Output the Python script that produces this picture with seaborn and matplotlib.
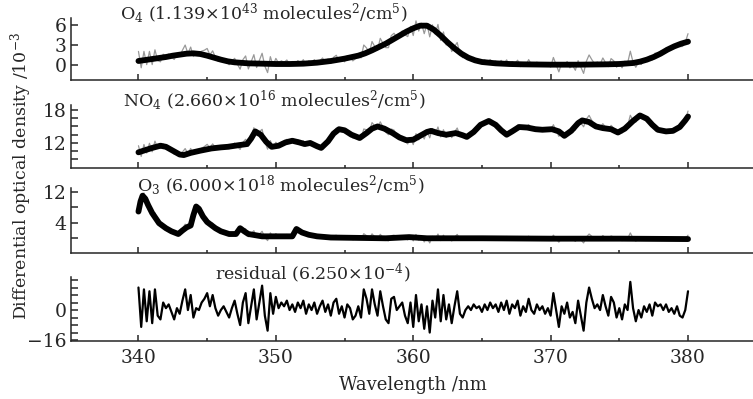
'''
DOAS fit panels: O4, NO4, O3 and the fit residual
'''

import numpy as np
import matplotlib
matplotlib.use('Agg')
import matplotlib.pyplot as plt
import seaborn as sns

# Fitted O4 cross section (x 10^-3)
o4_wl = [340.0, 340.5, 341.0, 341.5, 342.0, 342.5, 343.0, 343.5, 344.0, 344.5, 345.0, 345.5,
         346.0, 346.5, 347.0, 348.0, 349.0, 350.0, 351.0, 352.0, 353.0, 354.0, 355.0, 356.0,
         356.5, 357.0, 357.5, 358.0, 358.5, 359.0, 359.5, 360.0, 360.5, 361.0, 361.5, 362.0,
         362.5, 363.0, 363.5, 364.0, 364.5, 365.0, 366.0, 367.0, 368.0, 370.0, 372.0, 374.0,
         375.0, 376.0, 376.5, 377.0, 377.5, 378.0, 378.5, 379.0, 379.5, 380.0]
o4_fit = [0.6, 0.75, 0.9, 1.05, 1.2, 1.4, 1.55, 1.7, 1.75, 1.65, 1.4, 1.1,
          0.8, 0.55, 0.4, 0.25, 0.2, 0.15, 0.15, 0.2, 0.35, 0.6, 0.95, 1.4,
          1.75, 2.2, 2.7, 3.2, 3.8, 4.4, 5.0, 5.5, 5.9, 5.9, 5.3, 4.4,
          3.4, 2.5, 1.7, 1.1, 0.7, 0.45, 0.25, 0.15, 0.1, 0.05, 0.05, 0.1,
          0.15, 0.3, 0.5, 0.8, 1.2, 1.7, 2.3, 2.8, 3.2, 3.5]

# Fitted NO4 cross section
no4_wl = [340.0, 340.5, 341.0, 341.6, 342.0, 342.5, 343.0, 343.3, 343.8, 344.5, 345.3, 346.0,
          346.5, 347.3, 347.9, 348.2, 348.5, 348.9, 349.3, 349.7, 350.2, 350.7, 351.2, 351.7,
          352.1, 352.5, 353.0, 353.3, 353.8, 354.2, 354.6, 355.0, 355.5, 356.1, 356.6, 357.0,
          357.4, 357.9, 358.5, 359.0, 359.5, 360.0, 360.5, 361.0, 361.3, 361.8, 362.4, 363.1,
          363.6, 363.9, 364.4, 364.9, 365.5, 366.0, 366.4, 366.8, 367.2, 367.7, 368.3, 368.9,
          369.4, 370.1, 370.6, 371.0, 371.5, 372.0, 372.3, 372.8, 373.3, 373.8, 374.4, 374.9,
          375.4, 376.0, 376.5, 377.0, 377.4, 377.8, 378.4, 378.9, 379.4, 379.8, 380.0]
no4_fit = [10.3, 10.7, 11.1, 11.5, 11.3, 10.6, 9.9, 9.8, 10.2, 10.6, 11.0, 11.2,
           11.3, 11.6, 11.8, 12.8, 14.1, 13.5, 12.2, 11.3, 11.5, 12.1, 12.4, 12.1,
           11.8, 12.0, 11.4, 11.1, 12.3, 13.7, 14.5, 14.3, 13.5, 12.9, 13.8, 14.6,
           15.0, 14.6, 13.8, 13.0, 12.5, 12.6, 13.3, 14.0, 14.2, 13.8, 13.5, 13.8,
           13.4, 13.1, 14.0, 15.3, 16.0, 15.3, 14.3, 13.5, 14.1, 14.9, 14.8, 14.5,
           14.4, 14.5, 14.1, 13.3, 14.2, 15.6, 16.1, 15.8, 15.0, 14.7, 14.5, 13.9,
           14.6, 16.0, 17.0, 16.4, 15.3, 14.4, 14.1, 14.2, 14.9, 16.1, 16.8]

# Fitted O3 cross section
o3_wl = [340.0, 340.15, 340.3, 340.5, 340.7, 341.0, 341.5, 342.0, 342.4, 342.9, 343.2, 343.5,
         343.8, 344.0, 344.2, 344.4, 344.7, 345.0, 345.6, 346.0, 346.6, 347.1, 347.4, 347.7,
         348.0, 349.0, 350.0, 351.2, 351.5, 351.9, 352.4, 353.0, 354.0, 356.0, 358.0, 359.7,
         361.0, 365.0, 370.0, 375.0, 380.0]
o3_fit = [6.9, 9.5, 11.0, 10.2, 8.6, 6.5, 3.9, 2.6, 1.8, 1.1, 2.0, 2.8,
          3.3, 6.0, 8.2, 7.6, 5.6, 4.2, 2.6, 1.8, 1.1, 1.1, 2.6, 1.8,
          1.1, 0.5, 0.5, 0.5, 2.4, 1.5, 0.9, 0.5, 0.2, 0.1, 0.0, 0.3,
          0.0, 0.0, -0.1, -0.1, -0.2]

# Residual, 340-380 nm every 0.2 nm
residual = [12, -9, 11, -6, 10, -7, 11, -3, -5, 4, 1, 3, -1, -5, 1, -2, 5, 11, 0, 8,
            -4, 1, 0, 4, 6, 9, 2, 8, 1, -3, 0, 2, -1, -4, 1, 5, -2, -8, 4, 9,
            -7, 2, 11, -5, 4, 13, -3, -11, 9, -2, 7, 1, 4, 2, 5, 0, 3, -1, 4, 1,
            5, -2, 3, 0, 4, -2, 2, 5, -1, 3, -3, 4, 6, -2, 2, -4, 3, 1, -5, -3,
            2, -4, 11, 6, -2, 11, 3, -3, 10, 2, -5, -7, 6, 7, 0, 2, 4, -3, -7, 4,
            -9, 8, -6, 3, -10, 2, -12, 5, -4, 11, -6, 8, -5, 3, -7, 2, 10, -2, -4, 0,
            2, 0, 3, 1, 2, -1, 3, 0, 4, 1, 3, -1, 4, 0, 5, -2, 3, 1, 5, -3,
            2, -1, 6, 0, -2, 3, 0, 2, -2, 1, -3, 9, 0, -9, 2, -2, 4, -4, -1, -7,
            5, -3, -11, 4, 12, 6, 1, 3, 0, 8, 2, -3, 7, 4, -4, 1, -5, 3, 0, 15,
            1, -6, 0, -4, 2, -1, 3, -3, 4, 2, 3, 0, 3, -1, 1, -2, 2, -3, -4, 0,
            10]
res_wl = np.linspace(340, 380, len(residual))
res = np.array(residual, dtype=float)

titles = [r'O$_4$ (1.139$\times$10$^{43}$ molecules$^2$/cm$^5$)',
          r'NO$_4$ (2.660$\times$10$^{16}$ molecules$^2$/cm$^5$)',
          r'O$_3$ (6.000$\times$10$^{18}$ molecules$^2$/cm$^5$)',
          r'residual (6.250$\times$10$^{-4}$)']

sns.set_style('ticks')
plt.rcParams['font.family'] = ['DejaVu Serif']
plt.rcParams['mathtext.fontset'] = 'dejavuserif'
plt.rcParams['font.size'] = 12.5

fig = plt.figure(figsize=(7.53, 3.99), dpi=100)

# axes boxes in pixels (top, bottom) of the 399 px high picture
boxes = [(18, 80), (105, 168), (188, 253), (277, 341)]
ylims = [(-2.25, 7.05), (7.45, 18.9), (-3.8, 12.98), (-16.5, 17.6)]
left = 71 / 753
axes = []
for (t, b), yl in zip(boxes, ylims):
    ax = fig.add_axes([left, 1 - b / 399, 1 - left, (b - t) / 399])
    ax.set_xlim(335.09, 384.73)
    ax.set_ylim(*yl)
    axes.append(ax)

# measured spectrum = fitted reference + residual (scaled per panel)
panels = [(o4_wl, o4_fit, 0.12), (no4_wl, no4_fit, 0.1), (o3_wl, o3_fit, 0.1)]
for ax, (wl, fit, k) in zip(axes[:3], panels):
    measured = np.interp(res_wl, wl, fit) + k * res
    sns.lineplot(x=res_wl, y=measured, ax=ax, color='#999999', linewidth=0.9)
    sns.lineplot(x=wl, y=fit, ax=ax, color='black', linewidth=4.2,
                 solid_joinstyle='round', solid_capstyle='round')

sns.lineplot(x=res_wl, y=res, ax=axes[3], color='black', linewidth=1.6,
             solid_joinstyle='round')

# y ticks
axes[0].set_yticks([0, 3, 6])
axes[1].set_yticks([9, 10.5, 12, 13.5, 15, 16.5, 18])
axes[1].set_yticklabels(['', '', '12', '', '', '', '18'])
axes[2].set_yticks([0, 4, 8, 12])
axes[2].set_yticklabels(['', '4', '', '12'])
axes[3].set_yticks([-16, -12, -8, -4, 0, 4, 8, 12, 16])
axes[3].set_yticklabels(['\u221216', '', '', '', '0', '', '', '', ''])

for i, ax in enumerate(axes):
    sns.despine(ax=ax)
    ax.spines['left'].set_linewidth(1.1)
    ax.spines['bottom'].set_linewidth(1.1)
    ax.set_xticks([340, 350, 360, 370, 380])
    ax.set_xticks([345, 355, 365, 375], minor=True)
    ax.tick_params(axis='x', which='major', direction='in', length=4.5, width=1.1,
                   pad=6, labelsize=13.5)
    ax.tick_params(axis='x', which='minor', direction='in', length=2.5, width=1.1)
    ax.tick_params(axis='y', direction='in', length=5, width=1.1, pad=3, labelsize=13.5)
    ax.set_xlabel('')
    ax.set_ylabel('')
    if i < 3:
        ax.set_xticklabels([])

# panel titles
title_pos = [(120, 13), (123, 100), (137, 185), (215, 273)]
for (px, py), txt in zip(title_pos, titles):
    fig.text(px / 753, 1 - py / 399, txt, ha='left', va='center', fontsize=12.5)

fig.text(413 / 753, 1 - 385 / 399, 'Wavelength /nm', ha='center', va='center', fontsize=13)
fig.text(21 / 753, 1 - 176 / 399, r'Differential optical density /10$^{-3}$',
         ha='center', va='center', rotation=90, fontsize=12.5)

fig.savefig('out.png', dpi=100)
